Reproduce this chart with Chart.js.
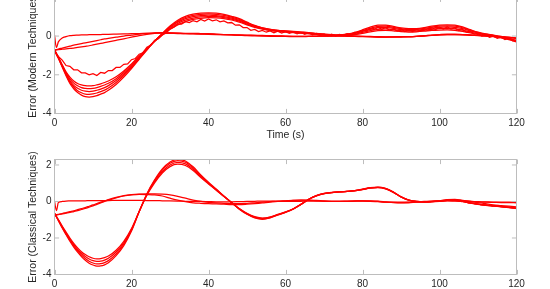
<!DOCTYPE html>
<html>
<head>
<meta charset="utf-8">
<script src="https://cdn.jsdelivr.net/npm/chart.js@4.4.1/dist/chart.umd.min.js"></script>
<style>
  html, body { margin: 0; padding: 0; background: #fff; overflow: hidden; }
  body { width: 550px; height: 289px; position: relative; }
  canvas { position: absolute; left: 0; }
  #modern { top: -20px; }
  #classical { top: 140px; }
</style>
</head>
<body>
<canvas id="modern" width="550" height="170"></canvas>
<canvas id="classical" width="550" height="170"></canvas>
<script>
const FONT = '"Liberation Sans", Helvetica, Arial, sans-serif';

// sample times (s)
const timeCoarse = [0,0.5,1,2,3,4,5,6,7,8,9,10,11,12,13,14,
  16,18,20,22,24,26,28,30,32,34,36,38,40,
  42,44,46,48,50,52,54,56,58,60,62,64,66,68,70,72,74,76,78,80,
  82,84,86,88,90,92,94,96,98,100,102,104,106,108,110,112,114,116,118,120];
const timeFine = [0,1,2,3,4,5,6,7,8,9,10,11,12,13,14,15,16,17,18,19,20,
  21,22,23,24,25,26,27,28,29,30,31,32,33,34,35,36,37,38,39,40,
  41,42,43,44,45,46,47,48,49,50,51,52,53,54,55,56,57,58,59,60,
  61,62,63,64,65,66,67,68,69,70,71,72,73,74,75,76,77,78,79,80,
  81,82,83,84,85,86,87,88,89,90,91,92,93,94,95,96,97,98,99,100,
  101,102,103,104,105,106,107,108,109,110,111,112,113,114,115,116,117,118,119,120];

const xTicks = [0, 20, 40, 60, 80, 100, 120];
const yTicks = [-4, -2, 0, 2];

// ---- modern techniques (top) ----
const modernDeep = [-0.72,-0.95,-1.15,-1.6,-2.05,-2.45,-2.72,-2.92,-3.05,-3.13,-3.15,-3.13,-3.08,-3.0,-2.92,-2.8,
  -2.5,-2.12,-1.68,-1.2,-0.72,-0.26,0.14,0.52,0.82,1.02,1.13,1.18,1.2,
  1.18,1.12,1.02,0.9,0.72,0.55,0.43,0.35,0.3,0.27,0.24,0.21,0.18,0.14,0.1,0.07,0.06,0.1,0.18,0.32,
  0.46,0.56,0.57,0.5,0.42,0.38,0.39,0.44,0.51,0.56,0.58,0.56,0.47,0.33,0.2,0.11,0.05,-0.02,-0.12,-0.24];
const modernB = [-0.72,-0.94,-1.13,-1.57,-2.0,-2.38,-2.63,-2.82,-2.93,-3.0,-3.01,-2.99,-2.94,-2.87,-2.79,-2.68,
  -2.4,-2.04,-1.62,-1.16,-0.7,-0.26,0.12,0.48,0.77,0.96,1.07,1.12,1.14,
  1.12,1.07,0.98,0.86,0.69,0.53,0.42,0.34,0.29,0.26,0.23,0.2,0.17,0.13,0.09,0.06,0.05,0.09,0.16,0.28,
  0.4,0.5,0.51,0.45,0.38,0.34,0.35,0.4,0.46,0.51,0.53,0.51,0.43,0.3,0.18,0.1,0.04,-0.03,-0.13,-0.25];
const modernMid = [-0.72,-0.93,-1.12,-1.55,-1.95,-2.3,-2.55,-2.7,-2.8,-2.85,-2.87,-2.85,-2.8,-2.74,-2.66,-2.56,
  -2.3,-1.96,-1.56,-1.12,-0.68,-0.26,0.11,0.45,0.72,0.9,1.01,1.06,1.08,
  1.06,1.01,0.93,0.81,0.66,0.51,0.4,0.32,0.27,0.24,0.21,0.18,0.15,0.12,0.08,0.05,0.04,0.07,0.13,0.24,
  0.35,0.43,0.45,0.4,0.34,0.3,0.31,0.35,0.41,0.45,0.47,0.45,0.38,0.27,0.16,0.08,0.02,-0.05,-0.15,-0.27];
const modernD = [-0.72,-0.91,-1.1,-1.51,-1.9,-2.21,-2.43,-2.57,-2.66,-2.7,-2.72,-2.7,-2.66,-2.6,-2.53,-2.44,
  -2.2,-1.88,-1.5,-1.08,-0.66,-0.27,0.08,0.4,0.65,0.82,0.93,0.99,1.01,
  1.0,0.95,0.88,0.77,0.62,0.48,0.38,0.3,0.25,0.22,0.19,0.16,0.13,0.1,0.07,0.04,0.03,0.05,0.1,0.19,
  0.28,0.35,0.37,0.33,0.28,0.25,0.26,0.3,0.35,0.38,0.39,0.37,0.31,0.21,0.12,0.05,-0.01,-0.07,-0.16,-0.28];
const modernShallow = [-0.72,-0.9,-1.08,-1.48,-1.85,-2.12,-2.32,-2.45,-2.52,-2.56,-2.57,-2.56,-2.52,-2.47,-2.4,-2.32,
  -2.1,-1.8,-1.44,-1.04,-0.64,-0.27,0.06,0.35,0.58,0.75,0.86,0.92,0.95,
  0.94,0.9,0.83,0.72,0.58,0.45,0.36,0.29,0.24,0.21,0.18,0.15,0.12,0.09,0.06,0.03,0.02,0.04,0.08,0.14,
  0.22,0.28,0.3,0.27,0.23,0.21,0.22,0.25,0.29,0.31,0.32,0.3,0.24,0.16,0.08,0.02,-0.03,-0.09,-0.18,-0.3];
const modernZeroFast = [0.05,-0.6,-0.3,-0.1,-0.03,0.02,0.04,0.05,0.06,0.06,0.07,0.07,0.08,0.08,0.09,0.09,
  0.1,0.11,0.12,0.13,0.14,0.15,0.15,0.14,0.13,0.12,0.11,0.1,0.09,
  0.08,0.07,0.06,0.05,0.04,0.03,0.02,0.01,0.0,-0.01,-0.02,-0.02,-0.02,-0.01,0.0,0.0,0.01,0.01,0.0,-0.01,
  -0.02,-0.03,-0.04,-0.04,-0.03,-0.03,-0.02,0.01,0.05,0.08,0.1,0.1,0.08,0.06,0.04,0.02,0.0,-0.03,-0.06,-0.1];
const modernRampA = [-0.72,-0.7,-0.67,-0.62,-0.57,-0.52,-0.47,-0.43,-0.39,-0.35,-0.31,-0.27,-0.23,-0.19,-0.15,-0.12,
  -0.06,0.0,0.05,0.1,0.14,0.17,0.18,0.17,0.15,0.13,0.12,0.11,0.1,
  0.09,0.08,0.07,0.06,0.05,0.04,0.03,0.02,0.01,0.0,-0.01,-0.01,-0.01,0.0,0.01,0.02,0.02,0.01,0.0,-0.02,
  -0.03,-0.05,-0.06,-0.06,-0.05,-0.04,-0.02,0.0,0.03,0.06,0.08,0.08,0.07,0.05,0.03,0.01,-0.02,-0.05,-0.08,-0.12];
const modernRampB = [-0.72,-0.71,-0.7,-0.68,-0.66,-0.64,-0.62,-0.59,-0.56,-0.53,-0.5,-0.46,-0.42,-0.38,-0.34,-0.3,
  -0.22,-0.14,-0.06,0.02,0.09,0.14,0.17,0.16,0.15,0.14,0.14,0.13,0.12,
  0.1,0.08,0.06,0.04,0.02,0.01,0.0,-0.01,-0.02,-0.02,-0.03,-0.03,-0.02,-0.01,0.0,0.0,0.0,-0.01,-0.02,-0.03,
  -0.04,-0.05,-0.05,-0.04,-0.04,-0.03,-0.01,0.02,0.04,0.06,0.07,0.07,0.06,0.04,0.02,0.0,-0.02,-0.04,-0.07,-0.1];
// the noisy run, sampled every second
const modernNoisy = [-0.72,
  -1.06,-1.24,-1.52,-1.56,-1.74,-1.74,-1.9,-1.9,-2.0,-1.94,
  -2.04,-1.88,-1.92,-1.78,-1.78,-1.62,-1.62,-1.46,-1.44,-1.22,
  -1.16,-0.94,-0.86,-0.58,-0.48,-0.22,-0.14,0.06,0.16,0.36,
  0.46,0.62,0.62,0.74,0.7,0.8,0.74,0.86,0.78,0.88,
  0.79,0.84,0.74,0.78,0.68,0.7,0.56,0.58,0.44,0.44,
  0.3,0.34,0.23,0.29,0.2,0.27,0.17,0.25,0.15,0.23,
  0.14,0.21,0.11,0.19,0.09,0.17,0.07,0.14,0.04,0.11,
  0.01,0.1,0.0,0.09,0.02,0.12,0.08,0.2,0.16,0.3,
  0.26,0.4,0.33,0.46,0.35,0.44,0.3,0.38,0.26,0.35,
  0.24,0.34,0.24,0.35,0.26,0.38,0.3,0.43,0.34,0.46,
  0.36,0.47,0.36,0.42,0.28,0.34,0.2,0.24,0.1,0.14,
  0.0,0.06,-0.06,0.0,-0.12,-0.06,-0.18,-0.11,-0.24,-0.2];

// ---- classical techniques (bottom) ----
const classicalDeep = [-0.65,-0.85,-1.05,-1.45,-1.82,-2.18,-2.5,-2.78,-3.02,-3.22,-3.38,-3.48,-3.54,-3.53,-3.47,-3.36,
  -2.97,-2.42,-1.62,-0.55,0.42,1.18,1.78,2.16,2.32,2.22,1.9,1.45,1.05,
  0.68,0.3,-0.06,-0.42,-0.7,-0.9,-0.98,-0.9,-0.74,-0.6,-0.42,-0.16,0.12,0.32,0.44,0.5,0.53,0.56,0.6,0.68,
  0.76,0.79,0.72,0.52,0.26,0.08,0.0,-0.02,-0.01,0.02,0.06,0.06,0.0,-0.08,-0.15,-0.2,-0.24,-0.28,-0.32,-0.38];
const classicalM1 = [-0.65,-0.84,-1.03,-1.42,-1.78,-2.12,-2.43,-2.7,-2.93,-3.12,-3.27,-3.37,-3.42,-3.41,-3.35,-3.24,
  -2.87,-2.34,-1.58,-0.55,0.4,1.14,1.72,2.09,2.24,2.15,1.84,1.41,1.02,
  0.66,0.29,-0.06,-0.41,-0.68,-0.87,-0.95,-0.88,-0.73,-0.59,-0.41,-0.16,0.11,0.31,0.43,0.49,0.52,0.55,0.59,0.66,
  0.74,0.77,0.7,0.51,0.25,0.07,-0.01,-0.03,-0.02,0.01,0.05,0.05,-0.01,-0.09,-0.16,-0.21,-0.25,-0.29,-0.33,-0.39];
const classicalM2 = [-0.65,-0.83,-1.01,-1.38,-1.73,-2.06,-2.36,-2.62,-2.84,-3.01,-3.15,-3.24,-3.28,-3.27,-3.21,-3.11,
  -2.77,-2.26,-1.53,-0.55,0.37,1.08,1.64,2.0,2.14,2.06,1.77,1.36,0.99,
  0.64,0.28,-0.06,-0.4,-0.67,-0.85,-0.93,-0.86,-0.72,-0.58,-0.41,-0.16,0.11,0.31,0.43,0.49,0.52,0.55,0.59,0.66,
  0.74,0.77,0.7,0.51,0.25,0.07,0.0,-0.02,-0.01,0.02,0.06,0.06,0.0,-0.08,-0.15,-0.2,-0.24,-0.28,-0.32,-0.37];
const classicalShallow = [-0.65,-0.82,-0.99,-1.35,-1.68,-2.0,-2.29,-2.54,-2.75,-2.91,-3.03,-3.11,-3.14,-3.13,-3.08,-2.99,
  -2.67,-2.18,-1.48,-0.55,0.34,1.02,1.56,1.91,2.04,1.97,1.7,1.31,0.96,
  0.62,0.27,-0.06,-0.39,-0.65,-0.83,-0.91,-0.85,-0.71,-0.57,-0.4,-0.15,0.12,0.32,0.43,0.49,0.52,0.55,0.58,0.65,
  0.73,0.76,0.69,0.5,0.25,0.08,0.01,-0.01,0.0,0.03,0.07,0.07,0.01,-0.07,-0.14,-0.19,-0.23,-0.27,-0.31,-0.36];
const classicalHumpA = [-0.74,-0.73,-0.72,-0.68,-0.64,-0.6,-0.55,-0.5,-0.44,-0.38,-0.31,-0.24,-0.16,-0.08,0.0,0.07,
  0.2,0.3,0.36,0.39,0.38,0.36,0.3,0.18,0.07,-0.01,-0.07,-0.1,-0.12,
  -0.13,-0.15,-0.17,-0.17,-0.15,-0.12,-0.08,-0.03,0.0,0.03,0.06,0.08,0.08,0.06,0.03,0.01,0.0,0.0,0.02,0.04,
  0.04,0.02,-0.02,-0.06,-0.08,-0.07,-0.04,-0.02,0.0,0.04,0.1,0.12,0.06,0.0,-0.06,-0.12,-0.18,-0.22,-0.26,-0.3];
const classicalHumpB = [-0.74,-0.72,-0.7,-0.66,-0.61,-0.56,-0.51,-0.45,-0.39,-0.33,-0.26,-0.19,-0.11,-0.04,0.03,0.1,
  0.22,0.32,0.38,0.41,0.42,0.42,0.4,0.36,0.28,0.18,0.08,0.0,-0.05,
  -0.08,-0.1,-0.12,-0.12,-0.1,-0.07,-0.04,-0.01,0.02,0.04,0.06,0.07,0.06,0.04,0.02,0.01,0.01,0.02,0.03,0.03,
  0.02,0.0,-0.03,-0.05,-0.06,-0.05,-0.03,-0.01,0.01,0.04,0.08,0.09,0.05,0.01,-0.02,-0.04,-0.05,-0.06,-0.06,-0.07];
const classicalFlat = [0.02,-0.5,-0.06,0.0,0.02,0.03,0.04,0.04,0.04,0.04,0.05,0.05,0.05,0.05,0.05,0.05,
  0.06,0.06,0.06,0.06,0.05,0.05,0.04,0.03,0.02,0.01,0.0,0.0,-0.01,
  -0.02,-0.02,-0.02,-0.01,0.0,0.01,0.02,0.02,0.01,0.0,0.0,0.01,0.02,0.02,0.01,0.0,0.0,0.01,0.02,0.02,
  0.01,-0.01,-0.03,-0.04,-0.04,-0.03,-0.01,0.0,0.01,0.02,0.03,0.02,0.01,0.0,-0.01,-0.02,-0.03,-0.03,-0.04,-0.05];

const TICK = 4.6;
const AXIS_COLOR = '#bdbdbd';
const TEXT_COLOR = '#262626';

const matlabAxes = {
  id: 'matlabAxes',
  afterDraw(chart, args, opts) {
    const { ctx, chartArea: a, scales } = chart;
    ctx.save();
    ctx.strokeStyle = AXIS_COLOR;
    ctx.lineWidth = 1;
    ctx.strokeRect(a.left, a.top, a.right - a.left, a.bottom - a.top);
    ctx.beginPath();
    xTicks.forEach(v => {
      const px = Math.round(scales.x.getPixelForValue(v)) + 0.5;
      ctx.moveTo(px, a.bottom); ctx.lineTo(px, a.bottom - TICK);
      ctx.moveTo(px, a.top); ctx.lineTo(px, a.top + TICK);
    });
    yTicks.forEach(v => {
      const py = scales.y.getPixelForValue(v);
      ctx.moveTo(a.left, py); ctx.lineTo(a.left + TICK, py);
      ctx.moveTo(a.right, py); ctx.lineTo(a.right - TICK, py);
    });
    ctx.stroke();

    ctx.fillStyle = TEXT_COLOR;
    ctx.font = '10.5px ' + FONT;
    ctx.textAlign = 'center';
    ctx.textBaseline = 'middle';
    if (opts.xTitle) {
      ctx.fillText(opts.xTitle, (a.left + a.right) / 2, a.bottom + 21.5);
    }
    if (opts.yTitle) {
      ctx.translate(33, (a.top + a.bottom) / 2);
      ctx.rotate(-Math.PI / 2);
      ctx.fillText(opts.yTitle, 0, 0);
    }
    ctx.restore();
  }
};

function series(times, values, smooth) {
  return {
    data: times.map((t, i) => ({ x: t, y: values[i] })),
    borderColor: '#ff0000',
    borderWidth: 1.25,
    pointRadius: 0,
    fill: false,
    tension: smooth ? 0.4 : 0,
    cubicInterpolationMode: smooth ? 'monotone' : 'default'
  };
}

function makeChart(id, datasets, cfg) {
  const tickFont = { family: FONT, size: 10 };
  return new Chart(document.getElementById(id), {
    type: 'line',
    data: { datasets },
    options: {
      responsive: false,
      animation: false,
      devicePixelRatio: 1,
      layout: { padding: { top: cfg.padTop, right: 33.5, left: 0, bottom: 0 } },
      plugins: {
        legend: { display: false },
        tooltip: { enabled: false },
        matlabAxes: { xTitle: cfg.xTitle, yTitle: cfg.yTitle }
      },
      scales: {
        x: {
          type: 'linear', min: 0, max: 120,
          afterBuildTicks: s => { s.ticks = xTicks.map(v => ({ value: v })); },
          afterFit: s => { s.height = cfg.xHeight; },
          grid: { display: false, drawTicks: false },
          border: { display: false },
          ticks: { padding: 4, color: TEXT_COLOR, font: tickFont, maxRotation: 0, autoSkip: false }
        },
        y: {
          type: 'linear', min: -4, max: cfg.yMax,
          afterBuildTicks: s => { s.ticks = yTicks.map(v => ({ value: v })); },
          afterFit: s => { s.width = 54.5; },
          grid: { display: false, drawTicks: false },
          border: { display: false },
          ticks: { padding: 3, color: TEXT_COLOR, font: tickFont }
        }
      }
    },
    plugins: [matlabAxes]
  });
}

makeChart('modern', [
  series(timeCoarse, modernDeep, true),
  series(timeCoarse, modernB, true),
  series(timeCoarse, modernMid, true),
  series(timeCoarse, modernD, true),
  series(timeCoarse, modernShallow, true),
  series(timeFine, modernNoisy, false),
  series(timeCoarse, modernZeroFast, true),
  series(timeCoarse, modernRampA, true),
  series(timeCoarse, modernRampB, true)
], { padTop: 17.35, xHeight: 36.5, yMax: 2, xTitle: 'Time (s)', yTitle: 'Error (Modern Techniques)' });

makeChart('classical', [
  series(timeCoarse, classicalDeep, true),
  series(timeCoarse, classicalM1, true),
  series(timeCoarse, classicalM2, true),
  series(timeCoarse, classicalShallow, true),
  series(timeCoarse, classicalHumpA, true),
  series(timeCoarse, classicalHumpB, true),
  series(timeCoarse, classicalFlat, true)
], { padTop: 19.5, xHeight: 35.5, yMax: 2.3, xTitle: null, yTitle: 'Error (Classical Techniques)' });
</script>
</body>
</html>
